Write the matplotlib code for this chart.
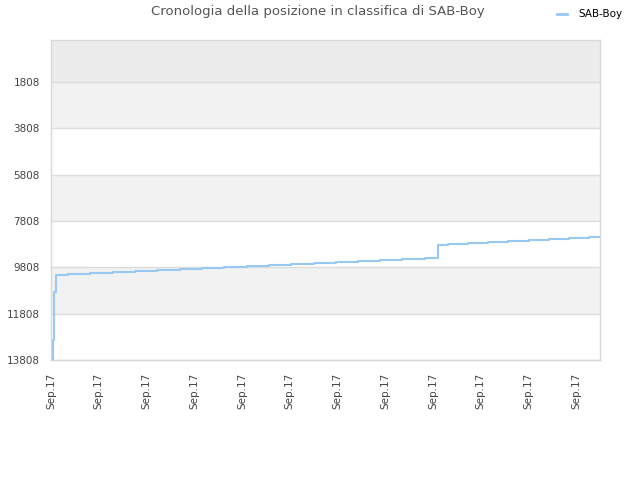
import matplotlib
matplotlib.use("Agg")
import matplotlib.pyplot as plt
import numpy as np

# Step change positions (in units of x-ticks) and rank values
x_pos = [0.05, 0.07, 0.10, 0.35, 0.82, 1.3, 1.77, 2.23, 2.7, 3.17, 3.63, 4.1, 4.57, 5.03, 5.5,
         5.98, 6.43, 6.9, 7.36, 7.83, 8.1, 8.32, 8.74, 9.16, 9.58, 10.02, 10.44, 10.86, 11.28, 11.5]
ranks = [12950, 10860, 10140, 10084, 10040, 9997, 9954, 9911, 9868, 9825, 9782, 9739, 9696, 9653, 9610,
         9567, 9524, 9481, 9438, 9395, 8846, 8800, 8760, 8716, 8673, 8630, 8587, 8544, 8500, 8500]
start_x = 0.05
start_rank = 13808

tick_pos = list(range(12))
tick_labels = ["Sep.17"] * 12
y_ticks = [1808, 3808, 5808, 7808, 9808, 11808, 13808]

fig = plt.figure(figsize=(6.4, 4.8), dpi=100)
ax = fig.add_axes([51/640, 120/480, 549/640, 320/480])

ax.set_xlim(0, 11.5)
ax.set_ylim(13808, -5)

# bands
band_edges = [-5] + y_ticks
for i in range(len(band_edges) - 1):
    lo, hi = band_edges[i], band_edges[i + 1]
    if i == 0:
        c = "#ececec"
    elif i % 2 == 1:
        c = "#f2f2f2"
    else:
        c = "#ffffff"
    ax.axhspan(lo, hi, color=c, zorder=0, lw=0)
for t in y_ticks:
    ax.axhline(t, color="#dcdcdc", lw=1, zorder=1)

xs = [start_x] + x_pos
ys = [start_rank] + ranks
ax.plot(xs, ys, drawstyle="steps-post", color="#99c8f2", lw=1.5, zorder=3, label="SAB-Boy")

ax.set_yticks(y_ticks)
ax.set_yticklabels([str(t) for t in y_ticks], fontsize=7.5, color="#444444")
ax.set_xticks(tick_pos)
ax.set_xticklabels(tick_labels, rotation=90, fontsize=7.5, color="#444444")
ax.tick_params(axis="y", length=0, pad=8)
ax.tick_params(axis="x", length=0, pad=9)
for s in ax.spines.values():
    s.set_color("#d8d8d8")
    s.set_linewidth(1)

fig.text(0.497, 1 - 12/480, "Cronologia della posizione in classifica di SAB-Boy",
         ha="center", va="center", fontsize=9.5, color="#555555")
leg = fig.legend(loc="upper right", bbox_to_anchor=(1 - 8/640, 1.0), frameon=False, fontsize=7.5,
                 handlelength=0.95, handletextpad=1.1)
for line in leg.get_lines():
    line.set_linewidth(2)

fig.savefig("out.png", dpi=100, facecolor="white")
